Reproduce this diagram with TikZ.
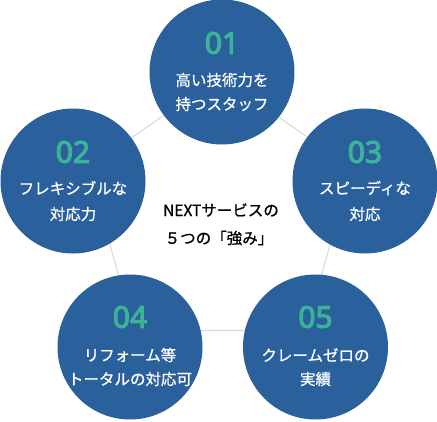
\documentclass[tikz,border=0pt]{standalone}
\usepackage{fontspec}
\setmainfont{Noto Sans CJK JP}
\newfontfamily\jpmed{Noto Sans CJK JP}[FakeBold=0.9]
\newfontfamily\numfont{Noto Sans}[FakeBold=3.6]
\definecolor{bubblecol}{HTML}{2A619C}
\definecolor{numcol}{HTML}{3DB396}
\definecolor{linkcol}{HTML}{D5DAE3}
\begin{document}
\begin{tikzpicture}[x=1pt,y=-1pt,
  bubble/.style={circle,fill=bubblecol,draw=none,minimum size=145pt,inner sep=0pt},
  num/.style={text=numcol,font=\numfont\fontsize{30}{30}\selectfont,inner sep=0pt},
  txt/.style={text=white,font=\jpmed\fontsize{15.5}{18}\selectfont,inner sep=0pt},
  ctxt/.style={text=black,font=\jpmed\fontsize{15.5}{18}\selectfont,inner sep=0pt},
  linkline/.style={draw=linkcol,line width=1.1pt}]
\useasboundingbox (0,0) rectangle (437,421);
\coordinate (p1) at (220,76);
\coordinate (p2) at (88.5,168);
\coordinate (p3) at (351.5,168);
\coordinate (p4) at (134,330.5);
\coordinate (p5) at (306,330.5);
\draw[linkline] (p1) -- (p2) -- (p4) -- (p5) -- (p3) -- cycle;
\node[bubble] (c1) at (222,72) {};
\node[bubble] (c2) at (73,181) {};
\node[bubble] (c3) at (365,181) {};
\node[bubble] (c4) at (130,347) {};
\node[bubble] (c5) at (315.5,347) {};
\node[num] (n1) at (222,43) {01};
\node[txt] (a1) at (222,80) {高い技術力を};
\node[txt] (b1) at (222,104) {持つスタッフ};
\node[num] (n2) at (73,152) {02};
\node[txt] (a2) at (73,188) {フレキシブルな};
\node[txt] (b2) at (73,214) {対応力};
\node[num] (n3) at (365,152) {03};
\node[txt] (a3) at (365,188) {スピーディな};
\node[txt] (b3) at (365,214) {対応};
\node[num] (n4) at (130,317) {04};
\node[txt] (a4) at (130,355) {リフォーム等};
\node[txt] (b4) at (130,379) {トータルの対応可};
\node[num] (n5) at (315.5,317) {05};
\node[txt] (a5) at (315.5,355) {クレームゼロの};
\node[txt] (b5) at (315.5,379) {実績};
\node[ctxt] (m1) at (221,210) {NEXTサービスの};
\node[ctxt] (m2) at (219,238) {５つの「強み」};
\end{tikzpicture}
\end{document}
